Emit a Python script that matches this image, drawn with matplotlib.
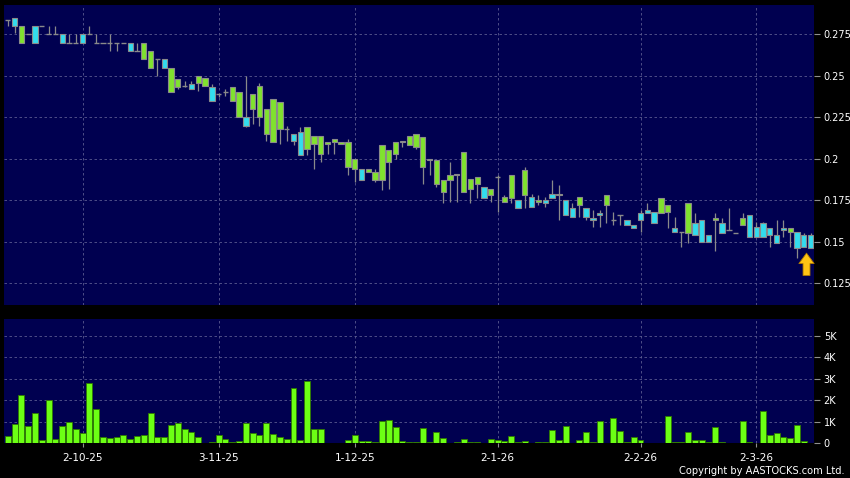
import numpy as np
import pandas as pd
import matplotlib
matplotlib.use('Agg')
import matplotlib.pyplot as plt

# trading days (HK) and holidays
holidays = ['2025-10-01', '2025-10-07', '2025-10-29', '2025-12-25', '2025-12-26',
            '2026-01-01', '2026-02-17', '2026-02-18', '2026-02-19']
dates = pd.bdate_range('2025-09-16', '2026-03-12')
dates = dates[~dates.isin(pd.to_datetime(holidays))]

opens = [0.284, 0.280, 0.280, 0.275, 0.270, 0.280, 0.275, 0.275, 0.270, 0.270,
         0.270, 0.270, 0.275, 0.270, 0.270, 0.270, 0.270, 0.270, 0.265, 0.265,
         0.270, 0.265, 0.260, 0.255, 0.255, 0.248, 0.244, 0.242, 0.250, 0.249,
         0.235, 0.239, 0.240, 0.243, 0.240, 0.220, 0.239, 0.244, 0.230, 0.236,
         0.234, 0.218, 0.211, 0.202, 0.219, 0.214, 0.214, 0.210, 0.212, 0.210,
         0.210, 0.200, 0.187, 0.194, 0.192, 0.208, 0.205, 0.210, 0.210, 0.214,
         0.215, 0.213, 0.200, 0.199, 0.187, 0.190, 0.191, 0.204, 0.188, 0.189,
         0.176, 0.182, 0.189, 0.177, 0.190, 0.170, 0.193, 0.171, 0.175, 0.173,
         0.176, 0.179, 0.166, 0.165, 0.177, 0.165, 0.163, 0.166, 0.178, 0.163,
         0.166, 0.160, 0.158, 0.163, 0.167, 0.161, 0.176, 0.172, 0.156, 0.156,
         0.173, 0.154, 0.150, 0.150, 0.164, 0.155, 0.157, 0.155, 0.164, 0.153,
         0.153, 0.153, 0.154, 0.149, 0.157, 0.158, 0.146, 0.147, 0.146]
highs = [0.284, 0.285, 0.280, 0.275, 0.280, 0.280, 0.280, 0.280, 0.275, 0.275,
         0.275, 0.275, 0.280, 0.275, 0.270, 0.275, 0.270, 0.270, 0.270, 0.270,
         0.270, 0.265, 0.260, 0.260, 0.255, 0.248, 0.247, 0.247, 0.250, 0.249,
         0.245, 0.239, 0.242, 0.243, 0.240, 0.250, 0.239, 0.246, 0.230, 0.236,
         0.234, 0.220, 0.215, 0.219, 0.219, 0.214, 0.214, 0.210, 0.212, 0.210,
         0.212, 0.200, 0.194, 0.194, 0.194, 0.208, 0.205, 0.210, 0.211, 0.214,
         0.215, 0.213, 0.200, 0.199, 0.187, 0.198, 0.191, 0.204, 0.188, 0.189,
         0.183, 0.182, 0.190, 0.178, 0.190, 0.175, 0.195, 0.179, 0.178, 0.177,
         0.187, 0.184, 0.175, 0.173, 0.177, 0.170, 0.169, 0.169, 0.178, 0.168,
         0.166, 0.163, 0.160, 0.169, 0.173, 0.168, 0.176, 0.172, 0.165, 0.156,
         0.173, 0.167, 0.163, 0.154, 0.167, 0.164, 0.170, 0.155, 0.167, 0.166,
         0.162, 0.162, 0.158, 0.163, 0.163, 0.158, 0.156, 0.155, 0.155]
lows = [0.280, 0.276, 0.270, 0.275, 0.270, 0.280, 0.275, 0.275, 0.270, 0.270,
        0.270, 0.270, 0.275, 0.270, 0.270, 0.265, 0.265, 0.270, 0.265, 0.265,
        0.260, 0.255, 0.250, 0.255, 0.240, 0.242, 0.243, 0.242, 0.241, 0.244,
        0.235, 0.237, 0.238, 0.235, 0.225, 0.219, 0.221, 0.220, 0.211, 0.210,
        0.209, 0.211, 0.208, 0.202, 0.202, 0.194, 0.198, 0.203, 0.203, 0.209,
        0.190, 0.186, 0.187, 0.192, 0.186, 0.181, 0.182, 0.200, 0.207, 0.208,
        0.206, 0.185, 0.190, 0.183, 0.173, 0.174, 0.174, 0.180, 0.173, 0.176,
        0.176, 0.174, 0.168, 0.174, 0.173, 0.170, 0.170, 0.171, 0.172, 0.171,
        0.176, 0.163, 0.166, 0.165, 0.165, 0.163, 0.159, 0.159, 0.161, 0.160,
        0.160, 0.160, 0.158, 0.156, 0.167, 0.161, 0.167, 0.158, 0.156, 0.147,
        0.149, 0.154, 0.150, 0.150, 0.144, 0.155, 0.157, 0.155, 0.160, 0.153,
        0.153, 0.153, 0.147, 0.149, 0.153, 0.147, 0.140, 0.147, 0.146]
closes = [0.284, 0.285, 0.270, 0.275, 0.280, 0.280, 0.275, 0.275, 0.275, 0.270,
          0.270, 0.275, 0.275, 0.270, 0.270, 0.270, 0.270, 0.270, 0.270, 0.265,
          0.260, 0.255, 0.260, 0.260, 0.240, 0.243, 0.244, 0.245, 0.246, 0.244,
          0.243, 0.239, 0.240, 0.235, 0.225, 0.225, 0.230, 0.225, 0.215, 0.210,
          0.218, 0.218, 0.215, 0.216, 0.206, 0.209, 0.203, 0.209, 0.210, 0.209,
          0.195, 0.194, 0.194, 0.192, 0.187, 0.187, 0.198, 0.203, 0.211, 0.208,
          0.207, 0.195, 0.199, 0.185, 0.180, 0.187, 0.190, 0.180, 0.182, 0.185,
          0.183, 0.178, 0.189, 0.174, 0.176, 0.175, 0.178, 0.177, 0.174, 0.175,
          0.179, 0.178, 0.175, 0.170, 0.172, 0.170, 0.164, 0.167, 0.172, 0.163,
          0.166, 0.163, 0.160, 0.167, 0.169, 0.168, 0.167, 0.168, 0.158, 0.156,
          0.155, 0.161, 0.163, 0.154, 0.163, 0.161, 0.157, 0.155, 0.160, 0.166,
          0.159, 0.161, 0.158, 0.154, 0.158, 0.156, 0.156, 0.154, 0.154]
# volume in thousands of shares
volume_k = [0.36, 0.90, 2.23, 0.81, 1.43, 0.16, 2.02, 0.19, 0.82, 0.98,
            0.68, 0.50, 2.81, 1.61, 0.31, 0.25, 0.31, 0.39, 0.22, 0.34,
            0.37, 1.43, 0.28, 0.28, 0.85, 0.96, 0.67, 0.51, 0.29, 0.03,
            0.05, 0.37, 0.20, 0.06, 0.12, 0.93, 0.47, 0.37, 0.93, 0.43,
            0.29, 0.19, 2.57, 0.14, 2.90, 0.65, 0.65, 0.01, 0.02, 0.02,
            0.14, 0.40, 0.12, 0.11, 0.06, 1.04, 1.09, 0.76, 0.12, 0.06,
            0.06, 0.73, 0.06, 0.53, 0.23, 0.01, 0.05, 0.20, 0.06, 0.06,
            0.01, 0.20, 0.14, 0.09, 0.36, 0.06, 0.11, 0.01, 0.05, 0.08,
            0.60, 0.14, 0.81, 0.01, 0.14, 0.51, 0.05, 1.05, 0.01, 1.19,
            0.59, 0.06, 0.29, 0.16, 0.01, 0.01, 0.02, 1.27, 0.06, 0.06,
            0.53, 0.16, 0.16, 0.05, 0.76, 0.05, 0.03, 0.01, 1.05, 0.05,
            0.01, 1.49, 0.39, 0.47, 0.31, 0.23, 0.85, 0.09, 0.0]

tick_dates = ['2025-10-02', '2025-11-03', '2025-12-01', '2026-01-02', '2026-02-02', '2026-03-02']
price_ticks = [0.125, 0.15, 0.175, 0.2, 0.225, 0.25, 0.275]
vol_ticks = [0, 1, 2, 3, 4, 5]

BG = '#000050'
GRID = '#5a5a90'
UP = '#33dced'
DOWN = '#80e22e'
EDGE = '#8a8a8a'
VOL = '#6cff14'

o = np.array(opens)
h = np.array(highs)
l = np.array(lows)
c = np.array(closes)
x = np.arange(len(dates))

fig = plt.figure(figsize=(8.5, 4.78), dpi=100, facecolor='black')
ax = fig.add_axes([4 / 850, 173 / 478, 810 / 850, 300 / 478], facecolor=BG)
axv = fig.add_axes([4 / 850, 34.7 / 478, 810 / 850, 124.3 / 478], facecolor=BG)

tick_idx = [dates.get_loc(pd.Timestamp(d)) for d in tick_dates]
tick_lbl = [f"{pd.Timestamp(d).day}-{pd.Timestamp(d).month}-{pd.Timestamp(d):%y}" for d in tick_dates]

# candles
ax.vlines(x, l, h, color=EDGE, lw=0.9, zorder=2)
body_w = 0.78
up = c > o
down = c < o
flat = c == o
ax.bar(x[up], (c - o)[up], bottom=o[up], width=body_w, color=UP,
       edgecolor=EDGE, lw=0.8, zorder=3)
ax.bar(x[down], (o - c)[down], bottom=c[down], width=body_w, color=DOWN,
       edgecolor=EDGE, lw=0.8, zorder=3)
ax.hlines(o[flat], x[flat] - body_w / 2, x[flat] + body_w / 2, color=EDGE, lw=1.0, zorder=3)

# arrow under last candle
last = len(dates) - 1
ax.annotate('', xy=(last - 0.6, l[-1] - 0.003), xytext=(last - 0.6, l[-1] - 0.0165),
            arrowprops=dict(arrowstyle='simple,head_length=0.75,head_width=1.1,tail_width=0.5',
                            mutation_scale=10, fc='#ffc414', ec='#b07a00', lw=0.6,
                            shrinkA=0, shrinkB=0),
            zorder=5)

ax.set_xlim(-0.55, len(dates) - 0.5)
ax.set_ylim(0.1117, 0.2928)
ax.set_yticks(price_ticks)
ax.set_yticklabels([f"{t:g}" for t in price_ticks])
ax.set_xticks(tick_idx)
ax.set_xticklabels([])

# volume
axv.bar(x, volume_k, width=0.88, color=VOL, edgecolor='#2f7a00', lw=0.6, zorder=3)
axv.set_xlim(ax.get_xlim())
axv.set_ylim(0, 5.78)
axv.set_yticks(vol_ticks)
axv.set_yticklabels(['0'] + [f"{t}K" for t in vol_ticks[1:]])
axv.set_xticks(tick_idx)
axv.set_xticklabels(tick_lbl)

for a in (ax, axv):
    for s in a.spines.values():
        s.set_visible(False)
    a.grid(True, color=GRID, ls=(0, (3, 3)), lw=0.6)
    a.set_axisbelow(True)
    a.yaxis.tick_right()
    a.tick_params(axis='y', colors='#909090', labelcolor='white', labelsize=7,
                  length=4, width=0.8, pad=3)
    a.tick_params(axis='x', colors='#909090', labelcolor='white', labelsize=7.5,
                  length=3, width=0.8, pad=4)
ax.tick_params(axis='x', length=0)

fig.text(0.994, 0.004, 'Copyright by AASTOCKS.com Ltd.', color='white', fontsize=7.1,
         ha='right', va='bottom')

fig.savefig('out.png', dpi=100, facecolor='black')
